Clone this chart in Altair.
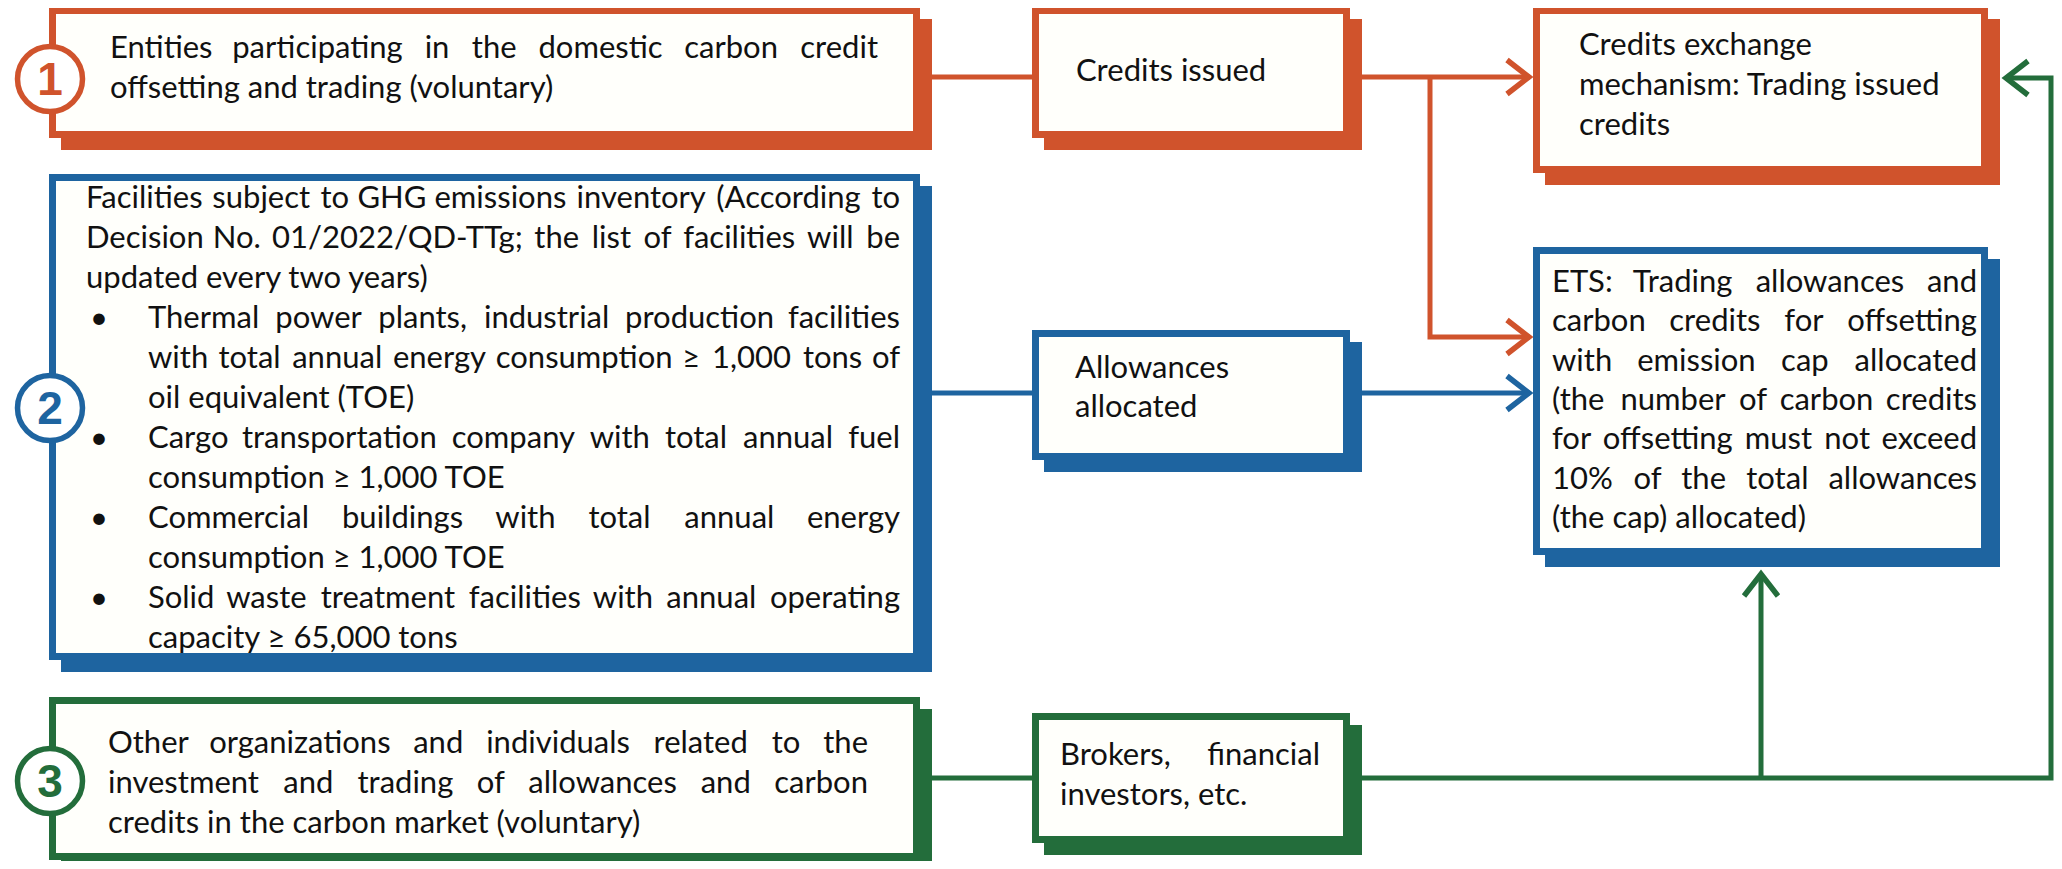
import altair as alt
import pandas as pd

ORANGE = "#D0532C"
BLUE = "#1E64A0"
GREEN = "#236D3B"
INNER = "#FFFFFB"

# ---- boxes (diagram geometry, pixels) ----
box_x0 = [49, 1032, 1533, 49, 1032, 1533, 49, 1032]
box_x1 = [920, 1350, 1988, 920, 1350, 1988, 920, 1350]
box_y0 = [7, 7, 7, 174, 330, 247, 697, 713]
box_y1 = [138, 138, 173, 660, 460, 555, 860, 843]
box_col = [ORANGE, ORANGE, ORANGE, BLUE, BLUE, BLUE, GREEN, GREEN]
SHADOW = 12
BORDER = 7

# ---- texts ----
t_box1 = ["Entities participating in the domestic carbon credit",
          "offsetting and trading (voluntary)"]
t_issued = ["Credits issued"]
t_exchange = ["Credits exchange", "mechanism: Trading issued", "credits"]
t_box2 = ["Facilities subject to GHG emissions inventory (According to",
          "Decision No. 01/2022/QD-TTg; the list of facilities will be",
          "updated every two years)"]
t_bullets = [
    ["Thermal power plants, industrial production facilities",
     "with total annual energy consumption \u2265 1,000 tons of",
     "oil equivalent (TOE)"],
    ["Cargo transportation company with total annual fuel",
     "consumption \u2265 1,000 TOE"],
    ["Commercial buildings with total annual energy",
     "consumption \u2265 1,000 TOE"],
    ["Solid waste treatment facilities with annual operating",
     "capacity \u2265 65,000 tons"],
]
t_allow = ["Allowances", "allocated"]
t_ets = ["ETS: Trading allowances and",
         "carbon credits for offsetting",
         "with emission cap allocated",
         "(the number of carbon credits",
         "for offsetting must not exceed",
         "10% of the total allowances",
         "(the cap) allocated)"]
t_box3 = ["Other organizations and individuals related to the",
          "investment and trading of allowances and carbon",
          "credits in the carbon market (voluntary)"]
t_brokers = ["Brokers, financial", "investors, etc."]
circle_labels = ["1", "2", "3"]
circle_y = [79, 408, 781]
circle_col = [ORANGE, BLUE, GREEN]

FONT = "Lato"
FS = 31

# approximate advance widths (per 1000 em) used to spread justified words
CAL = {' ': 226, 'a': 479, 'b': 525, 'c': 423, 'd': 525, 'e': 498, 'f': 305, 'g': 471,
       'h': 525, 'i': 229, 'j': 239, 'k': 455, 'l': 229, 'm': 799, 'n': 525, 'o': 527,
       'p': 525, 'q': 525, 'r': 349, 's': 391, 't': 335, 'u': 525, 'v': 452, 'w': 715,
       'x': 433, 'y': 453, 'z': 395, 'A': 600, 'B': 560, 'C': 560, 'D': 640, 'E': 500,
       'F': 470, 'G': 650, 'H': 640, 'I': 260, 'J': 330, 'K': 540, 'L': 430, 'M': 860,
       'N': 660, 'O': 680, 'P': 530, 'Q': 690, 'R': 560, 'S': 470, 'T': 500, 'U': 650,
       'V': 590, 'W': 900, 'X': 540, 'Y': 510, 'Z': 480, '.': 252, ',': 250, ':': 268,
       ';': 268, '(': 303, ')': 303, '/': 386, '-': 320, '%': 760, '\u2265': 520}
DIGIT = 560


def wid(s):
    return sum(CAL.get(c, DIGIT) for c in s) * 33 / 1000


rows = []


def para(lines, x0, x1, y0, dy, justify=True):
    for i, line in enumerate(lines):
        y = y0 + i * dy
        words = line.split()
        if not justify or i == len(lines) - 1 or len(words) < 2:
            rows.append(dict(x=x0, y=y, t=line, a="left"))
            continue
        ws = [wid(t) for t in words]
        g = (x1 - x0 - sum(ws)) / (len(words) - 1)
        cx = x0
        for k, (t, wd) in enumerate(zip(words, ws)):
            if k == 0:
                rows.append(dict(x=x0, y=y, t=t, a="left"))
            elif k == len(words) - 1:
                rows.append(dict(x=x1, y=y, t=t, a="right"))
            else:
                rows.append(dict(x=cx + wd / 2, y=y, t=t, a="center"))
            cx += wd + g


para(t_box1, 110, 878, 58, 40)
para(t_issued, 1076, 1340, 81, 40)
para(t_exchange, 1579, 1977, 55, 40, justify=False)
para(t_box2, 86, 900, 208, 40)
by = 328
for b in t_bullets:
    rows.append(dict(x=90, y=by, t="\u2022", a="left"))
    para(b, 148, 900, by, 40)
    by += 40 * len(b)
para(t_allow, 1075, 1340, 378, 39, justify=False)
para(t_ets, 1552, 1977, 292, 39.3)
para(t_box3, 108, 868, 753, 40)
para(t_brokers, 1060, 1320, 765, 40)
text_df = pd.DataFrame(rows)

# ---- connectors (polylines) ----
lines = []


def poly(pid, pts, col):
    for k, (x, y) in enumerate(pts):
        lines.append(dict(id=pid, k=k, x=x, y=y, c=col))


poly("o1", [(915, 77), (1040, 77)], ORANGE)
poly("o2", [(1345, 77), (1530, 77)], ORANGE)
poly("o3", [(1430, 77), (1430, 337), (1530, 337)], ORANGE)
poly("b1", [(915, 393), (1040, 393)], BLUE)
poly("b2", [(1345, 393), (1530, 393)], BLUE)
poly("g1", [(915, 778), (1040, 778)], GREEN)
poly("g2", [(1345, 778), (2051, 778), (2051, 78), (2006, 78)], GREEN)
poly("g3", [(1761, 778), (1761, 575)], GREEN)
line_df = pd.DataFrame(lines)

arrows = []


def arrow(pid, tx, ty, dx, dy, col):
    px, py = -dy, dx
    a = (tx - 22 * dx + 17 * px, ty - 22 * dy + 17 * py)
    b = (tx - 22 * dx - 17 * px, ty - 22 * dy - 17 * py)
    for k, (x, y) in enumerate([a, (tx, ty), b]):
        arrows.append(dict(id=pid, k=k, x=x, y=y, c=col))


arrow("ao1", 1529, 77, 1, 0, ORANGE)
arrow("ao2", 1529, 337, 1, 0, ORANGE)
arrow("ab1", 1529, 393, 1, 0, BLUE)
arrow("ag1", 2006, 78, -1, 0, GREEN)
arrow("ag2", 1761, 574, 0, -1, GREEN)
arrow_df = pd.DataFrame(arrows)

box_df = pd.DataFrame(dict(x0=box_x0, x1=box_x1, y0=box_y0, y1=box_y1, c=box_col))
box_df["sx0"] = box_df.x0 + SHADOW
box_df["sx1"] = box_df.x1 + SHADOW
box_df["sy0"] = box_df.y0 + SHADOW
box_df["sy1"] = box_df.y1 + SHADOW
box_df["ix0"] = box_df.x0 + BORDER
box_df["ix1"] = box_df.x1 - BORDER
box_df["iy0"] = box_df.y0 + BORDER
box_df["iy1"] = box_df.y1 - BORDER

circ_df = pd.DataFrame(dict(x=[50, 50, 50], y=circle_y, c=circle_col, t=circle_labels))

XS = alt.Scale(domain=[8, 2054], nice=False, zero=False)
YS = alt.Scale(domain=[8, 861], nice=False, zero=False, reverse=True)


def X(f):
    return alt.X(f + ":Q", scale=XS, axis=None)


def Y(f):
    return alt.Y(f + ":Q", scale=YS, axis=None)


base_box = alt.Chart(box_df)
shadow = base_box.mark_rect().encode(
    x=X("sx0"), x2="sx1", y=Y("sy0"), y2="sy1",
    fill=alt.Fill("c:N", scale=None))
border = base_box.mark_rect().encode(
    x=X("x0"), x2="x1", y=Y("y0"), y2="y1",
    fill=alt.Fill("c:N", scale=None))
inner = base_box.mark_rect(fill=INNER).encode(
    x=X("ix0"), x2="ix1", y=Y("iy0"), y2="iy1")

conn = alt.Chart(line_df).mark_line(
    strokeJoin="miter", strokeCap="butt", strokeWidth=5).encode(
    x=X("x"), y=Y("y"), detail="id:N", order="k:Q",
    color=alt.Color("c:N", scale=None))
heads = alt.Chart(arrow_df).mark_line(
    strokeJoin="miter", strokeCap="butt", strokeWidth=5.5).encode(
    x=X("x"), y=Y("y"), detail="id:N", order="k:Q",
    color=alt.Color("c:N", scale=None))

circles = alt.Chart(circ_df).mark_point(
    shape="circle", size=4225, filled=False, fill="white", fillOpacity=1,
    strokeWidth=5.5, opacity=1).encode(
    x=X("x"), y=Y("y"), stroke=alt.Stroke("c:N", scale=None))
nums = alt.Chart(circ_df).mark_text(
    font="Liberation Sans", fontSize=46, fontWeight="bold", baseline="middle",
    align="center", dy=2).encode(
    x=X("x"), y=Y("y"), text="t:N", color=alt.Color("c:N", scale=None))


def text_layer(al):
    return alt.Chart(text_df).transform_filter(alt.datum.a == al).mark_text(
        font=FONT, fontSize=FS, baseline="alphabetic", align=al, color="#111111"
    ).encode(x=X("x"), y=Y("y"), text="t:N")


chart = alt.layer(
    conn, heads, shadow, border, inner, circles, nums,
    text_layer("left"), text_layer("center"), text_layer("right")
).properties(
    width=2046, height=853,
    autosize=alt.AutoSizeParams(type="none"),
    padding={"left": 0, "top": 0, "right": 0, "bottom": 0},
    background="white",
).configure_view(stroke=None)

chart.save("out.html", embed_options={"renderer": "svg", "actions": False})
